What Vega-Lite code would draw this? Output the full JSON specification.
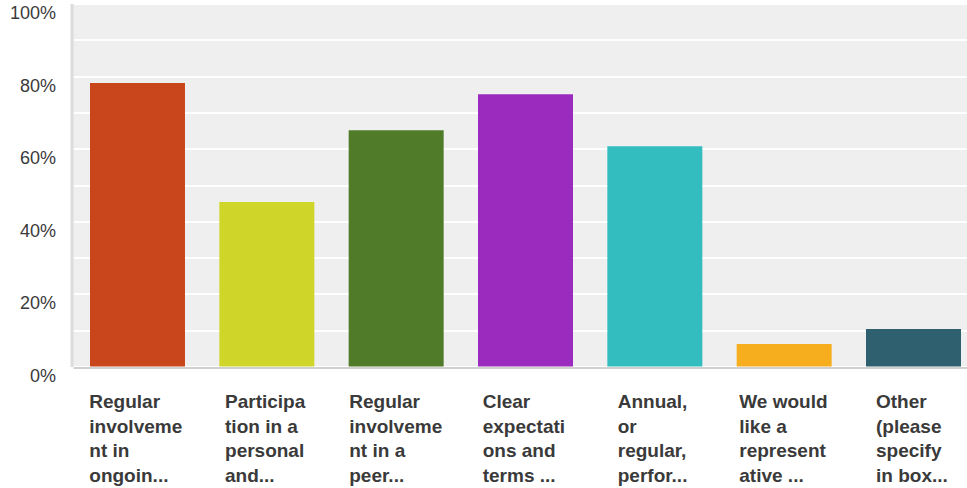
{
  "$schema": "https://vega.github.io/schema/vega-lite/v6.json",
  "autosize": {"type": "none"},
  "width": 894,
  "height": 363,
  "padding": {"left": 73, "top": 3.5, "right": 0, "bottom": 121.5},
  "background": "#ffffff",
  "config": {
    "view": {"fill": "#efefef", "stroke": null},
    "axis": {"labelFont": "Liberation Sans", "labelColor": "#3a3a3a", "ticks": false, "title": null}
  },
  "data": {
    "values": [
      {"key": "a", "label": "Regular|involveme|nt in|ongoin...", "value": 0.781},
      {"key": "b", "label": "Participa|tion in a|personal|and...", "value": 0.453},
      {"key": "c", "label": "Regular|involveme|nt in a|peer...", "value": 0.651},
      {"key": "d", "label": "Clear|expectati|ons and|terms ...", "value": 0.75},
      {"key": "e", "label": "Annual,|or|regular,|perfor...", "value": 0.607},
      {"key": "f", "label": "We would|like a|represent|ative ...", "value": 0.062},
      {"key": "g", "label": "Other|(please|specify|in box...", "value": 0.103}
    ]
  },
  "mark": {"type": "bar"},
  "encoding": {
    "x": {
      "field": "label",
      "type": "nominal",
      "sort": null,
      "scale": {"paddingInner": 0.2655, "paddingOuter": 0.1314, "range": [0, 905]},
      "axis": {
        "labelAngle": 0,
        "labelExpr": "split(datum.label, '|')",
        "labelAlign": "left",
        "labelBaseline": "top",
        "labelFontSize": 19,
        "labelFontWeight": "bold",
        "labelLineHeight": 24.5,
        "labelPadding": 25,
        "labelLimit": 300,
        "labelOffset": {
          "condition": [
            {"test": "indexof(datum.value, 'ongoin') >= 0", "value": -48.2},
            {"test": "indexof(datum.value, 'Participa') >= 0", "value": -41.8},
            {"test": "indexof(datum.value, 'peer') >= 0", "value": -46.9},
            {"test": "indexof(datum.value, 'Clear') >= 0", "value": -42.8},
            {"test": "indexof(datum.value, 'Annual') >= 0", "value": -37.1},
            {"test": "indexof(datum.value, 'We would') >= 0", "value": -44.9}
          ],
          "value": -37.5
        },
        "domainColor": "#d0d0d0",
        "domainWidth": 2,
        "offset": 1,
        "grid": false
      }
    },
    "y": {
      "field": "value",
      "type": "quantitative",
      "scale": {"domain": [0, 1], "nice": false},
      "axis": {
        "values": [0, 0.1, 0.2, 0.3, 0.4, 0.5, 0.6, 0.7, 0.8, 0.9, 1],
        "format": ".0%",
        "labelExpr": "round(datum.value * 100) % 20 == 0 ? datum.label : ''",
        "labelFontSize": 18,
        "labelPadding": 16,
        "labelOffset": 10,
        "grid": true,
        "gridColor": "#ffffff",
        "gridWidth": 2,
        "domainColor": "#dcdcdc",
        "domainWidth": 3,
        "offset": 1.5
      }
    },
    "color": {
      "field": "key",
      "type": "nominal",
      "scale": {
        "domain": ["a", "b", "c", "d", "e", "f", "g"],
        "range": ["#C9461C", "#D0D52A", "#507C29", "#9B2ABE", "#34BDBF", "#F6AE1F", "#2F6070"]
      },
      "legend": null
    }
  }
}
